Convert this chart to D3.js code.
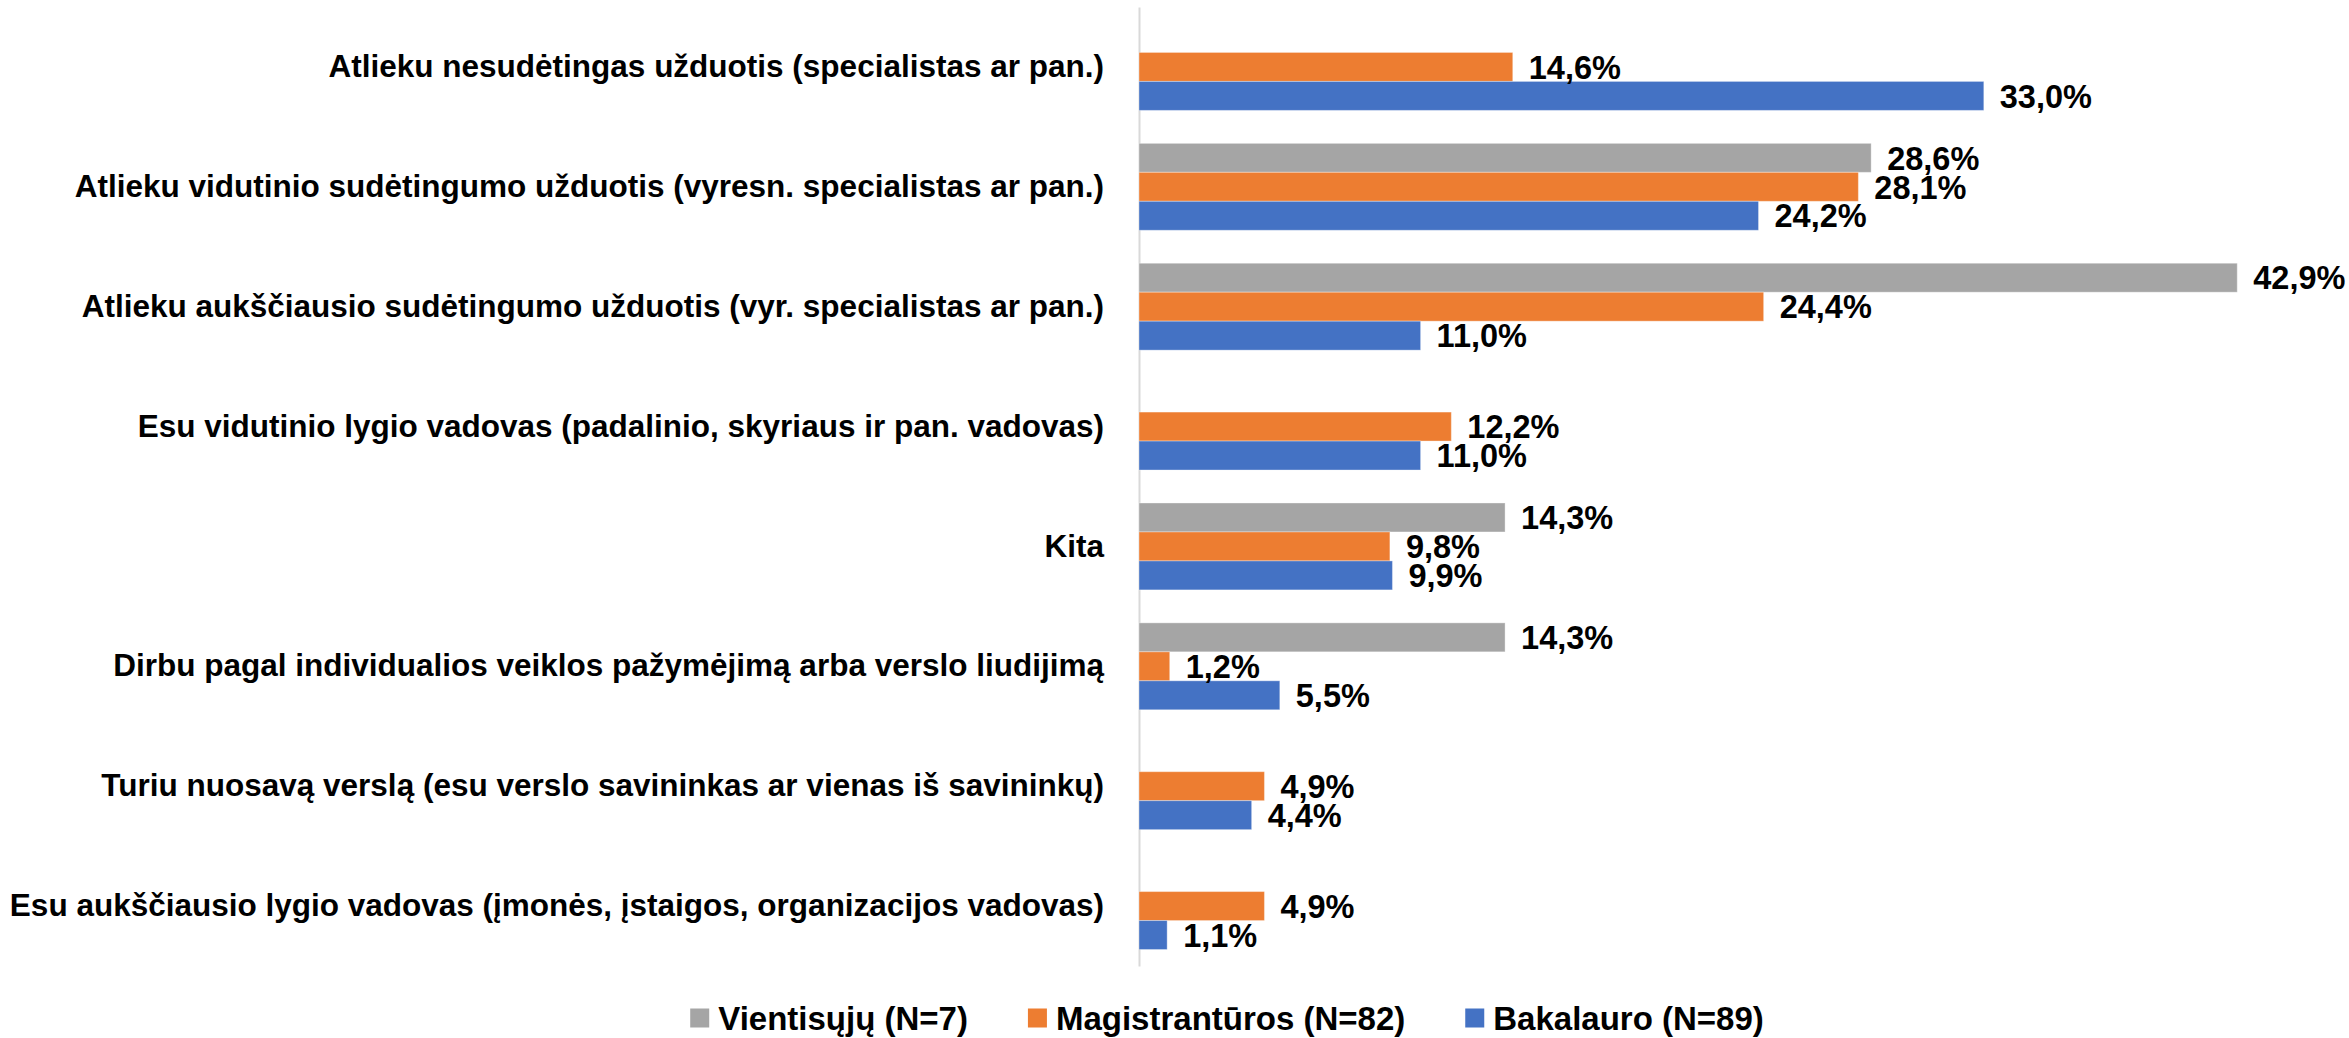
<!DOCTYPE html>
<html>
<head>
<meta charset="utf-8">
<script src="https://cdn.jsdelivr.net/npm/d3@7"></script>
<style>
  html, body { margin: 0; padding: 0; background: #fff; }
  svg { display: block; }
</style>
</head>
<body>
<svg id="chart" width="2349" height="1038"></svg>
<script>
const categories = [
  "Atlieku nesudėtingas užduotis (specialistas ar pan.)",
  "Atlieku vidutinio sudėtingumo užduotis (vyresn. specialistas ar pan.)",
  "Atlieku aukščiausio sudėtingumo užduotis (vyr. specialistas ar pan.)",
  "Esu vidutinio lygio vadovas (padalinio, skyriaus ir pan. vadovas)",
  "Kita",
  "Dirbu pagal individualios veiklos pažymėjimą arba verslo liudijimą",
  "Turiu nuosavą verslą (esu verslo savininkas ar vienas iš savininkų)",
  "Esu aukščiausio lygio vadovas (įmonės, įstaigos, organizacijos vadovas)"
];
const seriesNames = ["Vientisųjų (N=7)", "Magistrantūros (N=82)", "Bakalauro (N=89)"];
const vientisuju = [null, 28.6, 42.9, null, 14.3, 14.3, null, null];
const magistranturos = [14.6, 28.1, 24.4, 12.2, 9.8, 1.2, 4.9, 4.9];
const bakalauro = [33.0, 24.2, 11.0, 11.0, 9.9, 5.5, 4.4, 1.1];
const seriesColors = ["#A5A5A5", "#ED7D31", "#4472C4"];

const seriesValues = [vientisuju, magistranturos, bakalauro];
const FONT = "'Liberation Sans', Arial, sans-serif";

const svg = d3.select("#chart");

const x = d3.scaleLinear().domain([0, 45]).range([1139, 2291]);
const y = d3.scaleBand().domain(categories).range([7, 966])
  .paddingInner(0.275).paddingOuter(0.1375);
const ySub = d3.scaleBand().domain(d3.range(seriesNames.length)).range([0, y.bandwidth()]);

const fmt = v => d3.format(".1f")(v).replace(".", ",") + "%";

// axis (category labels + vertical line)
const axis = svg.append("g")
  .attr("transform", `translate(${x(0)},0)`)
  .call(d3.axisLeft(y).tickSize(0).tickPadding(35));
axis.select(".domain").attr("stroke", "#d9d9d9").attr("stroke-width", 2);
axis.selectAll("text")
  .attr("font-family", FONT)
  .attr("font-weight", "bold")
  .attr("font-size", 31.5)
  .attr("fill", "#000");

// bars
const rows = [];
categories.forEach((c, i) => {
  seriesValues.forEach((vals, s) => {
    if (vals[i] !== null) rows.push({ cat: c, s: s, v: vals[i] });
  });
});

const g = svg.append("g");
g.selectAll("rect").data(rows).join("rect")
  .attr("x", x(0))
  .attr("y", d => y(d.cat) + ySub(d.s))
  .attr("width", d => x(d.v) - x(0))
  .attr("height", ySub.bandwidth())
  .attr("fill", d => seriesColors[d.s])
  .attr("stroke", "#fff")
  .attr("stroke-opacity", 0.35)
  .attr("stroke-width", 1);

g.selectAll("text.val").data(rows).join("text")
  .attr("class", "val")
  .attr("x", d => x(d.v) + 16)
  .attr("y", d => y(d.cat) + ySub(d.s) + ySub.bandwidth() / 2)
  .attr("dy", "0.36em")
  .attr("font-family", FONT)
  .attr("font-weight", "bold")
  .attr("font-size", 32.5)
  .attr("fill", "#000")
  .text(d => fmt(d.v));

// legend
const legend = svg.append("g");
const items = legend.selectAll("g").data(seriesNames).join("g");
items.append("rect")
  .attr("width", 19).attr("height", 19)
  .attr("y", -9.5)
  .attr("fill", (d, i) => seriesColors[i]);
items.append("text")
  .attr("x", 28)
  .attr("dy", "0.36em")
  .attr("font-family", FONT)
  .attr("font-weight", "bold")
  .attr("font-size", 33)
  .attr("fill", "#000")
  .text(d => d);
let cx = 0;
const widths = [];
items.each(function () {
  widths.push(this.getBBox().width);
});
items.attr("transform", (d, i) => {
  const t = `translate(${cx},0)`;
  cx += widths[i] + 60;
  return t;
});
const total = cx - 60;
legend.attr("transform", `translate(${1227 - total / 2},1018)`);
</script>
</body>
</html>
